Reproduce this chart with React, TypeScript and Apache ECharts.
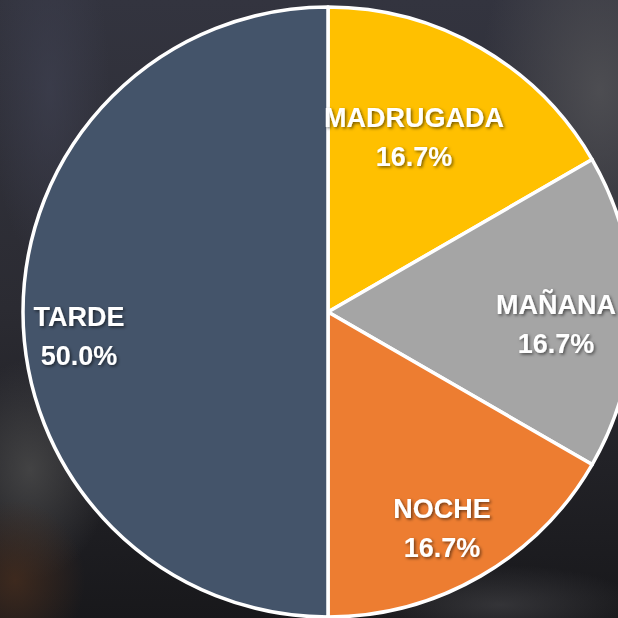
import React, { useEffect, useRef } from "react";
import * as echarts from "echarts";

const categories = ["MADRUGADA", "MAÑANA", "NOCHE", "TARDE"];
const values = [1, 1, 1, 3];
const colors = ["#FFC000", "#A5A5A5", "#ED7D31", "#44546A"];

// label centres (pixel) for each slice, mimicking the original best-fit placement
const labelCenters: Record<string, [number, number]> = {
  MADRUGADA: [414, 137],
  "MAÑANA": [556, 324],
  NOCHE: [442, 528],
  TARDE: [79, 336],
};

function blob(cx: number, cy: number, rx: number, ry: number, color: string, alpha: number) {
  return {
    type: "rect",
    z: -10,
    shape: { x: cx - rx, y: cy - ry, width: rx * 2, height: ry * 2 },
    style: {
      fill: {
        type: "radial",
        x: 0.5,
        y: 0.5,
        r: 0.5,
        colorStops: [
          { offset: 0, color: `rgba(${color},${alpha})` },
          { offset: 1, color: `rgba(${color},0)` },
        ],
      },
    },
  };
}

export default function App() {
  const ref = useRef<HTMLDivElement>(null);
  useEffect(() => {
    document.body.style.margin = "0";
    const chart = echarts.init(ref.current!, undefined, { renderer: "svg" });
    chart.setOption({
      animation: false,
      backgroundColor: {
        type: "linear",
        x: 0,
        y: 0,
        x2: 0,
        y2: 1,
        colorStops: [
          { offset: 0, color: "#33343f" },
          { offset: 0.5, color: "#2b2b32" },
          { offset: 1, color: "#18181b" },
        ],
      },
      graphic: [
        blob(600, 90, 120, 200, "80,80,84", 0.9),
        blob(30, 470, 80, 110, "75,75,75", 0.8),
        blob(15, 580, 70, 80, "70,45,30", 0.8),
        blob(50, 90, 60, 180, "62,64,80", 0.7),
        blob(500, 605, 140, 40, "70,70,74", 0.6),
      ],
      series: [
        {
          type: "pie",
          center: [328, 312],
          radius: [0, 305],
          startAngle: 90,
          clockwise: true,
          data: categories.map((c, i) => ({
            name: c,
            value: values[i],
            itemStyle: { color: colors[i] },
          })),
          itemStyle: { borderColor: "#ffffff", borderWidth: 3.5 },
          label: {
            show: true,
            position: "inside",
            formatter: (p: any) => `${p.name}\n${p.percent.toFixed(1)}%`,
            color: "#ffffff",
            fontFamily: "Liberation Sans",
            fontWeight: "bold",
            fontSize: 27,
            lineHeight: 39,
            align: "center",
            textShadowColor: "rgba(0,0,0,0.55)",
            textShadowBlur: 3,
            textShadowOffsetX: 1.5,
            textShadowOffsetY: 1.5,
          },
          labelLine: { show: false },
          labelLayout: (params: any) => {
            const name = categories[params.dataIndex];
            const pos = labelCenters[name];
            return { x: pos[0], y: pos[1], align: "center", verticalAlign: "middle" };
          },
          emphasis: { disabled: true },
        },
      ],
    });
    return () => chart.dispose();
  }, []);
  return <div ref={ref} style={{ width: 618, height: 618 }} />;
}
